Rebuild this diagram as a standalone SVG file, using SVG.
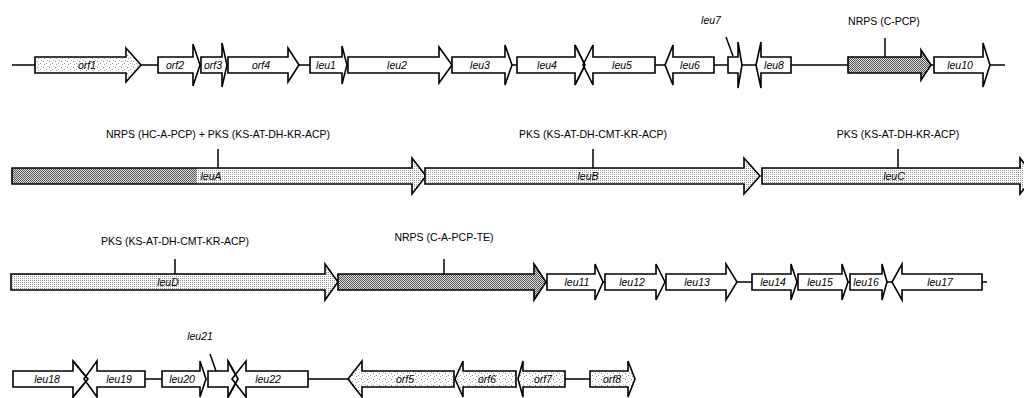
<svg xmlns="http://www.w3.org/2000/svg" width="1024" height="398" viewBox="0 0 1024 398">
<defs>
<pattern id="orf" width="6" height="6" patternUnits="userSpaceOnUse">
<rect width="6" height="6" fill="#fff"/>
<rect x="1" y="1" width="1" height="1" fill="#888"/>
<rect x="4" y="3" width="1" height="1" fill="#999"/>
<rect x="2" y="4" width="1" height="1" fill="#aaa"/>
<rect x="5" y="0" width="1" height="1" fill="#bbb"/>
</pattern>
<pattern id="pks" width="2" height="2" patternUnits="userSpaceOnUse">
<rect width="2" height="2" fill="#fff"/>
<rect x="0" y="0" width="1" height="1" fill="#999"/>
</pattern>
<pattern id="nrps" width="2" height="2" patternUnits="userSpaceOnUse">
<rect width="2" height="2" fill="#dcdcdc"/>
<rect x="0" y="0" width="1" height="1" fill="#555"/>
<rect x="1" y="1" width="1" height="1" fill="#555"/>
</pattern>
</defs>
<style>
.g{stroke:#000;stroke-width:1.6;stroke-linejoin:miter;fill:#fff}
.o{fill:url(#orf)}
.p{fill:url(#pks)}
.n{fill:url(#nrps)}
.ln{stroke:#000;stroke-width:1.5;fill:none}
.ov{stroke:#000;stroke-width:1.6;fill:none}
.t{font-family:"Liberation Sans",Arial,sans-serif;font-size:10.5px;font-style:italic;text-anchor:middle;fill:#000}
.h{font-family:"Liberation Sans",Arial,sans-serif;font-size:10.5px;text-anchor:middle;fill:#000}
</style>

<g id="connectors">
<line class="ln" x1="12" y1="65" x2="1005" y2="65"/>
<line class="ln" x1="11" y1="282" x2="987" y2="282"/>
<line class="ln" x1="145" y1="379" x2="162" y2="379"/>
<line class="ln" x1="308" y1="379" x2="348" y2="379"/>
<line class="ln" x1="565" y1="379" x2="590" y2="379"/>
<line class="ln" x1="726" y1="37" x2="733" y2="56"/>
<line class="ln" x1="885" y1="38" x2="885" y2="57"/>
<line class="ln" x1="218" y1="149" x2="218" y2="168"/>
<line class="ln" x1="593" y1="149" x2="593" y2="168"/>
<line class="ln" x1="898" y1="149" x2="898" y2="168"/>
<line class="ln" x1="175" y1="259" x2="175" y2="274"/>
<line class="ln" x1="444" y1="259" x2="444" y2="274"/>
<line class="ln" x1="210" y1="354" x2="216" y2="371"/>
</g>

<!-- Row 1 -->
<g id="orf1"><polygon class="g o" points="35,57 126,57 126,48 141,65 126,82 126,73 35,73"/><text class="t" x="87" y="68.7">orf1</text></g>
<g id="orf2"><polygon class="g" points="158,57 193,57 193,44 200,65 193,86 193,73 158,73"/><text class="t" x="175" y="68.7">orf2</text></g>
<g id="orf3"><polygon class="g" points="201,57 222,57 222,43 227,65 222,87 222,73 201,73"/><text class="t" x="213" y="68.7">orf3</text></g>
<g id="orf4"><polygon class="g" points="228,57 288,57 288,48 299,65 288,82 288,73 228,73"/><text class="t" x="261" y="68.7">orf4</text></g>
<g id="leu1"><polygon class="g" points="310,57 342,57 342,46 347,65 342,84 342,73 310,73"/><text class="t" x="326" y="68.7">leu1</text></g>
<g id="leu2"><polygon class="g" points="348,57 439,57 439,47 452,65 439,83 439,73 348,73"/><text class="t" x="397" y="68.7">leu2</text></g>
<g id="leu3"><polygon class="g" points="452,57 505,57 505,45 512,65 505,85 505,73 452,73"/><text class="t" x="480" y="68.7">leu3</text></g>
<g id="leu4"><polygon class="g" points="517,57 575,57 575,45 585,65 575,85 575,73 517,73"/><text class="t" x="547" y="68.7">leu4</text></g>
<g id="leu5"><polygon class="g" points="655,57 593,57 593,45 583,65 593,85 593,73 655,73"/><text class="t" x="622" y="68.7">leu5</text><polyline class="ov" points="575,45 585,65 575,85"/></g>
<g id="leu6"><polygon class="g" points="714,57 673,57 673,45 665,65 673,85 673,73 714,73"/><text class="t" x="690" y="68.7">leu6</text></g>
<g id="leu7"><polygon class="g" points="728,57 738,57 738,42 742,65 738,88 738,73 728,73"/><text class="t" x="711" y="24">leu7</text></g>
<g id="leu8"><polygon class="g" points="791,57 761,57 761,42 756,65 761,88 761,73 791,73"/><text class="t" x="774" y="68.7">leu8</text></g>
<g id="nrps-c-pcp"><polygon class="g n" points="848,57 921,57 921,50 931,65 921,80 921,73 848,73"/><text class="h" x="884" y="25">NRPS (C-PCP)</text></g>
<g id="leu10"><polygon class="g" points="934,57 983,57 983,43 990,65 983,87 983,73 934,73"/><text class="t" x="960" y="68.7">leu10</text></g>

<!-- Row 2 -->
<g id="leuA">
<polygon class="p" points="12,168 412,168 412,158 426,176 412,194 412,184 12,184"/>
<rect class="n" x="12" y="168" width="185" height="16"/>
<polygon class="g" style="fill:none" points="12,168 412,168 412,158 426,176 412,194 412,184 12,184"/>
<text class="t" x="211" y="179.7">leuA</text>
<text class="h" x="218" y="138">NRPS (HC-A-PCP) + PKS (KS-AT-DH-KR-ACP)</text>
</g>
<g id="leuB"><polygon class="g p" points="425,168 744,168 744,158 760,176 744,194 744,184 425,184"/><text class="t" x="588" y="179.7">leuB</text><text class="h" x="593" y="138">PKS (KS-AT-DH-CMT-KR-ACP)</text></g>
<g id="leuC"><polygon class="g p" points="762,168 1020,168 1020,158 1034,176 1020,194 1020,184 762,184"/><text class="t" x="894" y="179.7">leuC</text><text class="h" x="898" y="138">PKS (KS-AT-DH-KR-ACP)</text></g>

<!-- Row 3 -->
<g id="leuD"><polygon class="g p" points="11,274 325,274 325,264 338,282 325,300 325,290 11,290"/><text class="t" x="168" y="285.7">leuD</text><text class="h" x="175" y="245">PKS (KS-AT-DH-CMT-KR-ACP)</text></g>
<g id="nrps-c-a-pcp-te"><polygon class="g n" points="338,274 534,274 534,264 546,282 534,300 534,290 338,290"/><text class="h" x="444" y="241">NRPS (C-A-PCP-TE)</text></g>
<g id="leu11"><polygon class="g" points="547,274 595,274 595,264 603,282 595,300 595,290 547,290"/><text class="t" x="577" y="285.7">leu11</text></g>
<g id="leu12"><polygon class="g" points="605,274 656,274 656,264 665,282 656,300 656,290 605,290"/><text class="t" x="632" y="285.7">leu12</text></g>
<g id="leu13"><polygon class="g" points="666,274 726,274 726,264 737,282 726,300 726,290 666,290"/><text class="t" x="697" y="285.7">leu13</text></g>
<g id="leu14"><polygon class="g" points="752,274 791,274 791,264 797,282 791,300 791,290 752,290"/><text class="t" x="773" y="285.7">leu14</text></g>
<g id="leu15"><polygon class="g" points="798,274 842,274 842,264 848,282 842,300 842,290 798,290"/><text class="t" x="820" y="285.7">leu15</text></g>
<g id="leu16"><polygon class="g" points="850,274 882,274 882,264 887,282 882,300 882,290 850,290"/><text class="t" x="866" y="285.7">leu16</text></g>
<g id="leu17"><polygon class="g" points="982,274 902,274 902,264 892,282 902,300 902,290 982,290"/><text class="t" x="940" y="285.7">leu17</text></g>

<!-- Row 4 -->
<g id="leu18"><polygon class="g" points="13,371 73,371 73,361 88,379 73,397 73,387 13,387"/><text class="t" x="47" y="382.7">leu18</text></g>
<g id="leu19"><polygon class="g" points="145,371 97,371 97,361 84,379 97,397 97,387 145,387"/><text class="t" x="119" y="382.7">leu19</text><polyline class="ov" points="73,361 88,379 73,397"/></g>
<g id="leu20"><polygon class="g" points="162,371 200,371 200,361 206,379 200,397 200,387 162,387"/><text class="t" x="182" y="382.7">leu20</text></g>
<g id="leu21"><polygon class="g" points="208,371 228,371 228,361 238,379 228,397 228,387 208,387"/><text class="t" x="200" y="340">leu21</text></g>
<g id="leu22"><polygon class="g" points="308,371 246,371 246,361 232,379 246,397 246,387 308,387"/><text class="t" x="268" y="382.7">leu22</text><polyline class="ov" points="228,361 238,379 228,397"/></g>
<g id="orf5"><polygon class="g o" points="454,371 362,371 362,361 348,379 362,397 362,387 454,387"/><text class="t" x="405" y="382.7">orf5</text></g>
<g id="orf6"><polygon class="g o" points="516,371 463,371 463,361 455,379 463,397 463,387 516,387"/><text class="t" x="487" y="382.7">orf6</text></g>
<g id="orf7"><polygon class="g o" points="565,371 523,371 523,361 518,379 523,397 523,387 565,387"/><text class="t" x="543" y="382.7">orf7</text></g>
<g id="orf8"><polygon class="g o" points="590,371 628,371 628,361 635,379 628,397 628,387 590,387"/><text class="t" x="612" y="382.7">orf8</text></g>
</svg>
